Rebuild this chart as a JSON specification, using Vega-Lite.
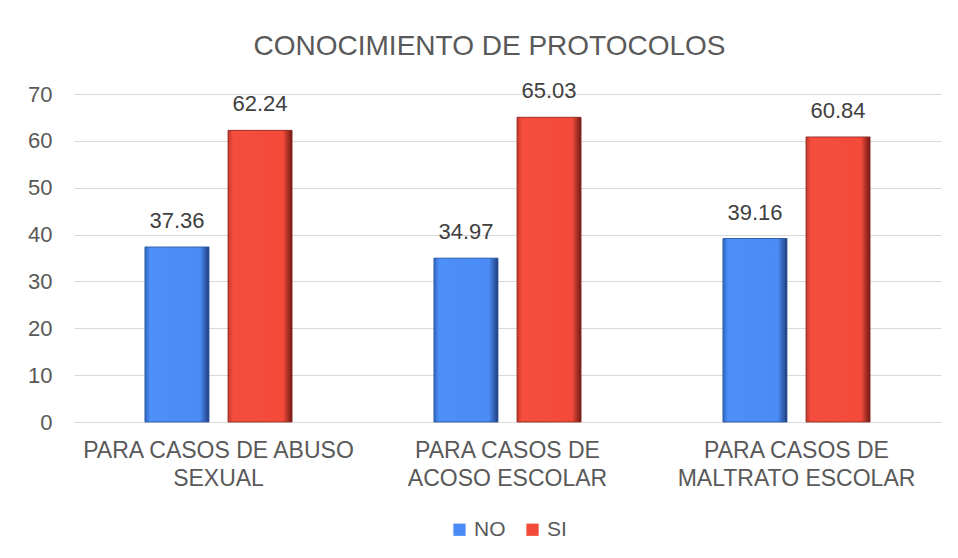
{
  "$schema": "https://vega.github.io/schema/vega-lite/v6.json",
  "width": 867,
  "height": 328,
  "autosize": {"type": "none"},
  "padding": {"left": 74, "top": 94, "right": 17, "bottom": 136},
  "background": "white",
  "title": {
    "text": "CONOCIMIENTO DE PROTOCOLOS",
    "fontSize": 28,
    "fontWeight": "normal",
    "color": "#595959",
    "anchor": "middle",
    "dx": -18,
    "offset": 19
  },
  "data": {
    "values": [
      {"categoria": "PARA CASOS DE ABUSO SEXUAL", "respuesta": "NO", "porcentaje": 37.36},
      {"categoria": "PARA CASOS DE ABUSO SEXUAL", "respuesta": "SI", "porcentaje": 62.24},
      {"categoria": "PARA CASOS DE ACOSO ESCOLAR", "respuesta": "NO", "porcentaje": 34.97},
      {"categoria": "PARA CASOS DE ACOSO ESCOLAR", "respuesta": "SI", "porcentaje": 65.03},
      {"categoria": "PARA CASOS DE MALTRATO ESCOLAR", "respuesta": "NO", "porcentaje": 39.16},
      {"categoria": "PARA CASOS DE MALTRATO ESCOLAR", "respuesta": "SI", "porcentaje": 60.84}
    ]
  },
  "encoding": {
    "x": {
      "field": "categoria",
      "type": "nominal",
      "sort": ["PARA CASOS DE ABUSO SEXUAL", "PARA CASOS DE ACOSO ESCOLAR", "PARA CASOS DE MALTRATO ESCOLAR"],
      "scale": {"paddingInner": 0.491, "paddingOuter": 0.2455},
      "axis": {
        "title": null,
        "domain": true,
        "domainColor": "#d9d9d9",
        "ticks": false,
        "tickSize": 0,
        "grid": false,
        "labelAngle": 0,
        "labelFontSize": 23,
        "labelColor": "#595959",
        "labelPadding": 17,
        "labelLineHeight": 28,
        "labelLimit": 0,
        "labelExpr": "datum.value == 'PARA CASOS DE ABUSO SEXUAL' ? ['PARA CASOS DE ABUSO','SEXUAL'] : datum.value == 'PARA CASOS DE ACOSO ESCOLAR' ? ['PARA CASOS DE','ACOSO ESCOLAR'] : ['PARA CASOS DE','MALTRATO ESCOLAR']"
      }
    },
    "xOffset": {
      "field": "respuesta",
      "type": "nominal",
      "sort": ["NO", "SI"],
      "scale": {"paddingInner": 0.229, "paddingOuter": 0}
    },
    "y": {
      "field": "porcentaje",
      "type": "quantitative",
      "scale": {"domain": [0, 70]},
      "axis": {
        "title": null,
        "domain": false,
        "ticks": false,
        "tickSize": 0,
        "values": [0, 10, 20, 30, 40, 50, 60, 70],
        "grid": true,
        "gridColor": "#d9d9d9",
        "gridWidth": 1,
        "labelFontSize": 22,
        "labelColor": "#595959",
        "labelPadding": 22
      }
    }
  },
  "layer": [
    {
      "mark": {"type": "bar"},
      "encoding": {
        "color": {
          "field": "respuesta",
          "type": "nominal",
          "scale": {"domain": ["NO", "SI"], "range": ["#4A8BF5", "#F34A3A"]},
          "legend": {
            "title": null,
            "orient": "bottom",
            "direction": "horizontal",
            "symbolType": "square",
            "symbolSize": 150,
            "symbolStrokeWidth": 0,
            "labelFontSize": 21,
            "labelColor": "#595959",
            "labelOffset": 4,
            "columnPadding": 16,
            "offset": 29
          }
        }
      }
    },
    {
      "transform": [{"filter": "datum.respuesta == 'NO'"}],
      "mark": {
        "type": "bar",
        "fill": {
          "gradient": "linear", "x1": 0, "y1": 0, "x2": 1, "y2": 0,
          "stops": [
            {"offset": 0, "color": "#2f66c4"},
            {"offset": 0.08, "color": "#4d90f7"},
            {"offset": 0.86, "color": "#4a8bf5"},
            {"offset": 1, "color": "#1e3e7c"}
          ]
        },
        "stroke": "#2a5299",
        "strokeWidth": 0.8
      }
    },
    {
      "transform": [{"filter": "datum.respuesta == 'SI'"}],
      "mark": {
        "type": "bar",
        "fill": {
          "gradient": "linear", "x1": 0, "y1": 0, "x2": 1, "y2": 0,
          "stops": [
            {"offset": 0, "color": "#c23a2e"},
            {"offset": 0.08, "color": "#f54e3e"},
            {"offset": 0.86, "color": "#f34a3a"},
            {"offset": 1, "color": "#6e1a14"}
          ]
        },
        "stroke": "#8a2a20",
        "strokeWidth": 0.8
      }
    },
    {
      "mark": {"type": "text", "dy": -19, "baseline": "alphabetic", "fontSize": 22, "color": "#404040"},
      "encoding": {
        "text": {"field": "porcentaje", "type": "quantitative", "format": ".2f"}
      }
    }
  ],
  "config": {
    "view": {"stroke": null},
    "font": "Liberation Sans",
    "legend": {"layout": {"bottom": {"anchor": "middle"}}}
  }
}
